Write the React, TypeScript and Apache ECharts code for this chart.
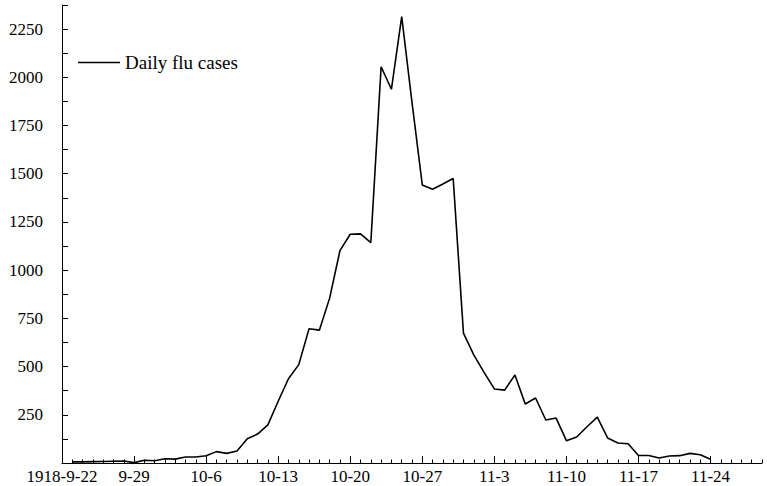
import React, { useEffect, useRef } from "react";
import * as echarts from "echarts";

const categories: string[] = [
  "1918-9-22", "9-23", "9-24", "9-25", "9-26", "9-27", "9-28",
  "9-29", "9-30", "10-1", "10-2", "10-3", "10-4", "10-5",
  "10-6", "10-7", "10-8", "10-9", "10-10", "10-11", "10-12",
  "10-13", "10-14", "10-15", "10-16", "10-17", "10-18", "10-19",
  "10-20", "10-21", "10-22", "10-23", "10-24", "10-25", "10-26",
  "10-27", "10-28", "10-29", "10-30", "10-31", "11-1", "11-2",
  "11-3", "11-4", "11-5", "11-6", "11-7", "11-8", "11-9",
  "11-10", "11-11", "11-12", "11-13", "11-14", "11-15", "11-16",
  "11-17", "11-18", "11-19", "11-20", "11-21", "11-22", "11-23",
  "11-24", "11-25", "11-26", "11-27", "11-28", "11-29",
];

const dailyCases: (number | null)[] = [
  null, 6, 6, 7, 8, 9, 10,
  2, 14, 12, 22, 20, 31, 31,
  38, 59, 50, 62, 126, 150, 198,
  320, 437, 510, 696, 689, 855, 1101,
  1186, 1188, 1143, 2055, 1938, 2315, 1870,
  1442, 1420, 1447, 1475, 673, 561, 470,
  384, 378, 456, 306, 337, 223, 233,
  116, 135, 188, 238, 130, 104, 100,
  39, 39, 26, 36, 38, 50, 43,
  19,
];

const seriesName = "Daily flu cases";
const FONT = "Liberation Serif";

export default function App() {
  const ref = useRef<HTMLDivElement>(null);
  useEffect(() => {
    if (!ref.current) return;
    const chart = echarts.init(ref.current, null, { renderer: "svg" });
    chart.setOption({
      animation: false,
      textStyle: { fontFamily: FONT },
      grid: { left: 62, right: 5, top: 5, bottom: 23, containLabel: false },
      legend: {
        left: 73,
        top: 48,
        icon: "rect",
        itemWidth: 42,
        itemHeight: 1.6,
        textStyle: { fontFamily: FONT, fontSize: 19, color: "#000" },
        data: [{ name: seriesName }],
      },
      xAxis: [
        {
          type: "category",
          data: categories,
          boundaryGap: false,
          axisLine: { show: true, lineStyle: { color: "#000", width: 1 } },
          axisTick: { show: true, inside: true, length: 3.5, interval: 0, lineStyle: { color: "#000" } },
          axisLabel: { interval: 6, color: "#000", fontSize: 17, fontFamily: FONT, margin: 5 },
          splitLine: { show: false },
        },
        {
          type: "category",
          data: categories,
          boundaryGap: false,
          position: "bottom",
          axisLine: { show: false },
          axisTick: { show: true, inside: true, length: 7, interval: 6, lineStyle: { color: "#000" } },
          axisLabel: { show: false },
          splitLine: { show: false },
        },
      ],
      yAxis: {
        type: "value",
        min: 0,
        max: 2375,
        interval: 125,
        axisLine: { show: true, lineStyle: { color: "#000", width: 1 } },
        axisTick: { show: true, inside: true, length: 6, lineStyle: { color: "#000" } },
        axisLabel: {
          color: "#000",
          fontSize: 17,
          fontFamily: FONT,
          margin: 19,
          formatter: (v: number) => (v !== 0 && v % 250 === 0 ? String(v) : ""),
        },
        splitLine: { show: false },
      },
      series: [
        {
          name: seriesName,
          type: "line",
          xAxisIndex: 0,
          data: dailyCases,
          symbol: "none",
          showSymbol: false,
          connectNulls: false,
          lineStyle: { color: "#000", width: 1.6 },
          itemStyle: { color: "#000" },
        },
      ],
    });
    return () => chart.dispose();
  }, []);
  return (
    <div
      ref={ref}
      style={{ position: "fixed", left: 0, top: 0, width: 767, height: 486, background: "#fff" }}
    />
  );
}
